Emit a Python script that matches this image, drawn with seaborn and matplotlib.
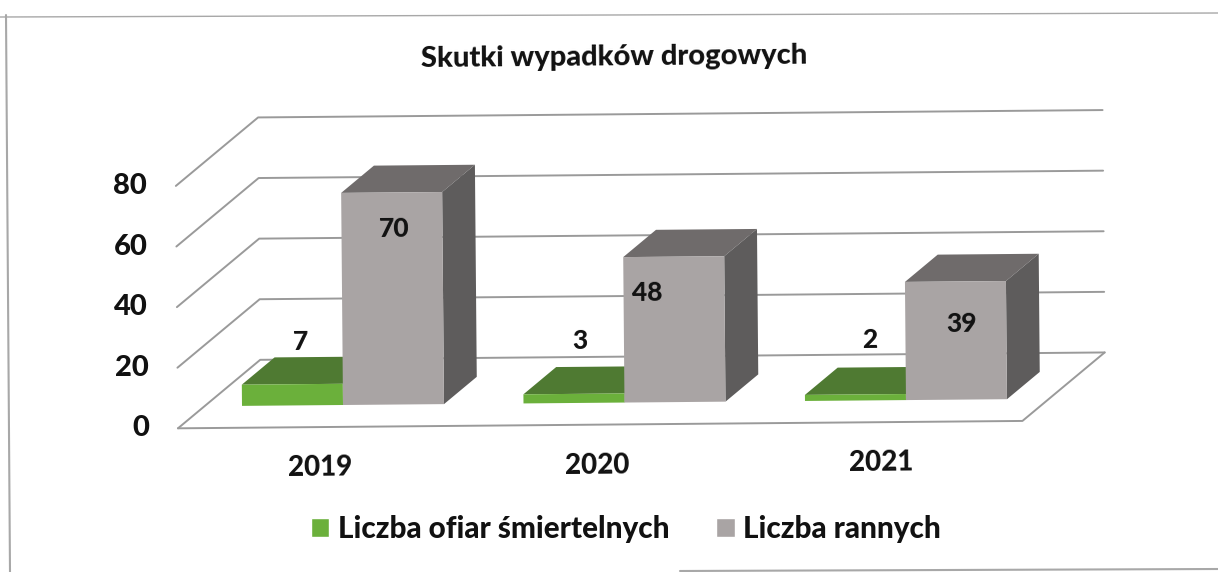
import matplotlib
matplotlib.use("Agg")
import matplotlib.pyplot as plt
import pandas as pd
import seaborn as sns
from matplotlib.lines import Line2D
from matplotlib.patches import Polygon
from matplotlib.transforms import Affine2D

# Data
years = ["2019", "2020", "2021"]
deaths = [7, 3, 2]
injured = [70, 48, 39]
y_ticks = [0, 20, 40, 60, 80]
title = "Skutki wypadków drogowych"
series_names = ["Liczba ofiar śmiertelnych", "Liczba rannych"]

# Styling
colors = {"front": ["#6BB03B", "#A9A4A4"], "top": ["#4F7A32", "#6F6B6B"], "side": ["#4F7A32", "#5E5C5C"]}
grid_color = "#9A9A9A"
frame_color = "#A8A8A8"
heavy = 900
label_nudge = [[(8, 42), (6, 53), (14, 55)], [(3, -36), (-27, -36), (6, -42)]]
year_nudge = [1, -4, -1]

sns.set_theme(style="white")
plt.rcParams["font.family"] = ["Lato", "DejaVu Sans"]
plt.rcParams["font.weight"] = heavy

df = pd.DataFrame({
    "year": years * 2,
    "value": deaths + injured,
    "series": [series_names[0]] * 3 + [series_names[1]] * 3,
})

fig = plt.figure(figsize=(12.18, 5.72), dpi=100)
ax = fig.add_axes([0, 0, 1, 1])
sns.barplot(data=df, x="year", y="value", hue="series", order=years, width=0.7176, gap=0,
            palette=colors["front"], saturation=1, ax=ax)

# axes fill the figure, 281.5 px per year and 3.03 px per unit
ax.set_xlim(-343 / 281.5, (1218 - 343) / 281.5)
ax.set_ylim((405 - 572) / 3.03, 405 / 3.03)
ax.axis("off")

# the scan is tilted a bit
tilt = Affine2D().rotate_deg_around(343, 572 - 405, 0.5)
tr = ax.transData + tilt

# depth of the fake 3D box, in data units per bar depth
DX = 33 / 281.5
DY = 27 / 3.03
Z_FRONT = -0.81
Z_BACK = 1.70


def proj(x, y, z):
    return x + z * DX, y + z * DY


def line3d(points, **kw):
    xs, ys = zip(*[proj(*p) for p in points])
    ax.plot(xs, ys, transform=tr, color=grid_color, lw=1.4, zorder=1, **kw)


# Walls and floor
x0, x1 = -0.492, 2.508
for tick in y_ticks:
    line3d([(x0, tick, Z_FRONT), (x0, tick, Z_BACK), (x1, tick, Z_BACK)])
line3d([(x0, 0, Z_FRONT), (x1, 0, Z_FRONT), (x1, 0, Z_BACK)])

# Bars: front faces come from seaborn, top and side are built on them
for s, container in enumerate(ax.containers):
    for b, bar in enumerate(container):
        left, right = bar.get_x(), bar.get_x() + bar.get_width()
        h = bar.get_height()
        bar.set_transform(tr)
        bar.set_zorder(4)
        bar.set_edgecolor("none")
        top = [proj(left, h, 0), proj(right, h, 0), proj(right, h, 1), proj(left, h, 1)]
        side = [proj(right, 0, 0), proj(right, h, 0), proj(right, h, 1), proj(right, 0, 1)]
        ax.add_patch(Polygon(top, color=colors["top"][s], transform=tr, zorder=3, lw=0))
        ax.add_patch(Polygon(side, color=colors["side"][s], transform=tr, zorder=2 + s, lw=0))
        ax.annotate(str(int(h)), xy=((left + right) / 2, h), xycoords=tr, xytext=label_nudge[s][b],
                    textcoords="offset pixels", ha="center", va="center", fontsize=19,
                    fontweight=heavy, color="#111111", rotation=0.5, zorder=6)

# Axis labels
for tick in y_ticks:
    x, y = proj(x0, tick, Z_FRONT)
    ax.annotate(str(tick), xy=(x, y), xycoords=tr, xytext=(-29, 0), textcoords="offset pixels",
                ha="right", va="center", fontsize=21, fontweight=heavy, color="#111111")
for i, year in enumerate(years):
    x, y = proj(i, 0, Z_FRONT)
    ax.annotate(year, xy=(x, y), xycoords=tr, xytext=(3 + year_nudge[i], -41), textcoords="offset pixels",
                ha="center", va="center", fontsize=20, fontweight=heavy, color="#111111", rotation=0.5)

ax.text(614 / 1218, 1 - 57 / 572, title, transform=ax.transAxes, ha="center", va="center",
        fontsize=21, fontweight=heavy, color="#111111", rotation=0.5)

handles, labels = ax.get_legend_handles_labels()
ax.legend(handles, labels, loc="center", bbox_to_anchor=(626 / 1218, 1 - 529 / 572), ncol=2, frameon=False,
          handlelength=0.62, handleheight=0.62, handletextpad=0.3, columnspacing=1.58,
          labelcolor="#111111", prop={"weight": heavy, "size": 21.3})

# Scanned page frame
for xs, ys, width in [([6, 10], [15, 572], 1.5), ([0, 1218], [17, 13], 1.0), ([680, 1218], [571, 569], 1.5)]:
    fig.add_artist(Line2D([v / 1218 for v in xs], [1 - v / 572 for v in ys], color=frame_color, lw=width))

fig.savefig("out.png", dpi=100)
